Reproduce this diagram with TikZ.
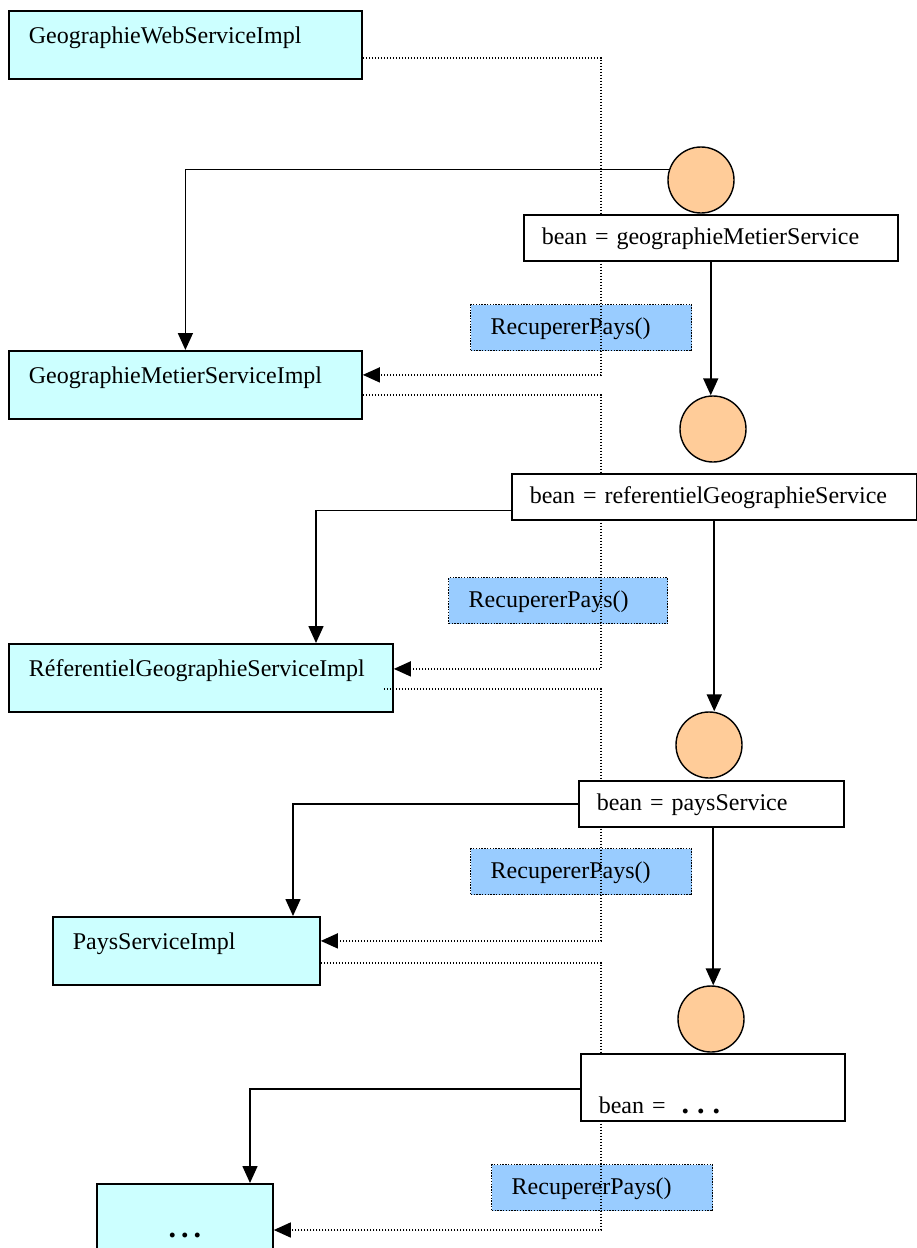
\documentclass[tikz,border=0pt]{standalone}
\usepackage{fontspec}
\setmainfont{Liberation Serif}
\usetikzlibrary{arrows.meta,calc}
\definecolor{implfill}{HTML}{CCFFFF}
\definecolor{callfill}{HTML}{99CCFF}
\definecolor{hubfill}{HTML}{FFCC99}
\begin{document}
\begin{tikzpicture}[x=1pt, y=-1pt,
  every node/.style = {font=\fontsize{24}{28}\selectfont},
  impl/.style = {draw, line width=1.8pt, fill=implfill, anchor=north west,
    inner xsep=20pt, inner ysep=0pt, minimum height=68pt,
    text height=17pt, text depth=19pt, text width=#1, align=left},
  beanbox/.style = {draw, line width=1.5pt, fill=white, anchor=north west,
    inner xsep=18pt, inner ysep=0pt, minimum height=46pt,
    text height=17pt, text depth=3pt, text width=#1, align=left},
  callbox/.style = {draw, line width=1.4pt, dash pattern=on 1.4pt off 1.4pt,
    fill=callfill, anchor=north west, inner xsep=20pt, inner ysep=0pt,
    minimum height=46pt, text height=17pt, text depth=3pt, text width=#1, align=left},
  hub/.style = {draw, circle, line width=1.4pt, fill=hubfill, minimum size=66pt, inner sep=0pt},
  call/.style = {line width=1.5pt, dash pattern=on 1.5pt off 1.5pt,
    -{Triangle[length=17pt, width=15pt]}},
  flow/.style = {line width=1.6pt, -{Triangle[length=17pt, width=15pt]}},
  dots/.style = {font=\fontsize{30}{30}\bfseries}]

\useasboundingbox (0,0) rectangle (917,1248);
\clip (0,0) rectangle (917,1248);

% implementations
\node[impl=313pt] (gws)  at (8,10)   {GeographieWebServiceImpl};
\node[impl=313pt] (gmsi) at (8,350)  {GeographieMetierServiceImpl};
\node[impl=344pt] (rgsi) at (8,643)  {RéferentielGeographieServiceImpl};
\node[impl=227pt] (psi)  at (52,916) {PaysServiceImpl};
\node[impl=136pt, align=center, minimum height=110pt, dots] (last) at (96,1183)
  {.\hspace{5pt}.\hspace{5pt}.};

% calls
\node[callbox=181pt] (r1) at (470,304)  {RecupererPays()};
\node[callbox=179pt] (r2) at (448,577)  {RecupererPays()};
\node[callbox=181pt] (r3) at (470,848)  {RecupererPays()};
\node[callbox=181pt] (r4) at (491,1164) {RecupererPays()};

% lifeline
\coordinate (life) at (601,0);
\draw[call] ($(gws.east)+(0,13)$) -| ($(life |- gmsi.east)+(0,-10)$) -- ($(gmsi.east)+(0,-10)$);
\draw[call] ($(gmsi.east)+(0,10)$) -| ($(life |- rgsi.east)+(0,-9)$) -- ($(rgsi.east)+(0,-9)$);
\draw[call] ($(rgsi.east)+(-10,11)$) -| ($(life |- psi.east)+(0,-10)$) -- ($(psi.east)+(0,-10)$);
\draw[call] ($(psi.east)+(0,12)$) -| ($(life |- last.north east)+(0,47)$) -- ($(last.north east)+(0,47)$);

% beans
\node[beanbox=338pt] (b1) at (523,214)  {bean = geographieMetierService};
\node[beanbox=369pt] (b2) at (511,473)  {bean = referentielGeographieService};
\node[beanbox=229pt] (b3) at (578,780)  {bean = paysService};
\node[beanbox=228pt, minimum height=67pt, text height=56pt] (b4) at (580,1053)
  {bean = \ {\fontsize{30}{30}\bfseries .\hspace{8pt}.\hspace{8pt}.}};

\node[hub] (c1) at (701,180)  {};
\node[hub] (c2) at (713,429)  {};
\node[hub] (c3) at (709,745)  {};
\node[hub] (c4) at (711,1019) {};

\draw[flow] (c1.162) -| (gmsi.north);
\draw[flow] (b1.south) -- (b1.south |- c2.north);
\draw[flow] ($(b2.south west)+(0,-10)$) -| ($(rgsi.north west)+(308,0)$);
\draw[flow] (b2.south) -- (b2.south |- c3.north);
\draw[flow] (b3.west) -| ($(psi.north west)+(241,0)$);
\draw[flow] ($(b3.south)+(2,0)$) -- ($(b3.south |- c4.north)+(2,0)$);
\draw[flow] ($(b4.west)+(0,2)$) -| ($(last.north west)+(154,0)$);
\end{tikzpicture}
\end{document}
